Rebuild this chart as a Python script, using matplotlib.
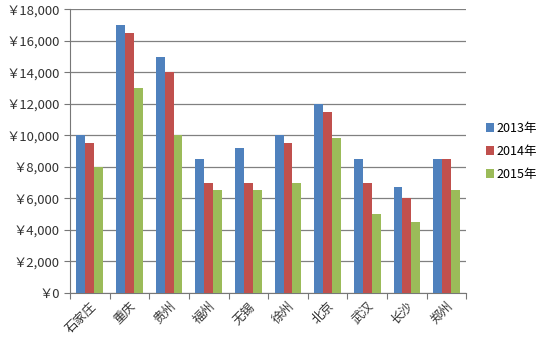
import numpy as np
import matplotlib.pyplot as plt
from matplotlib.ticker import FuncFormatter

plt.rcParams['font.family'] = ['Noto Sans CJK SC', 'DejaVu Sans']

cities = ['石家庄', '重庆', '贵州', '福州', '无锡', '徐州', '北京', '武汉', '长沙', '郑州']
y2013 = [10000, 17000, 15000, 8500, 9200, 10000, 12000, 8500, 6750, 8500]
y2014 = [9500, 16500, 14000, 7000, 7000, 9500, 11500, 7000, 6000, 8500]
y2015 = [8000, 13000, 10000, 6500, 6500, 7000, 9800, 5000, 4500, 6500]
years = ['2013年', '2014年', '2015年']
colors = ['#4F81BD', '#C0504D', '#9BBB59']

fig = plt.figure(figsize=(5.49, 3.43), dpi=100)
ax = fig.add_axes([0.1275, 0.146, 0.722, 0.827])

x = np.arange(len(cities))
w = 0.225
for k, (vals, lab) in enumerate(zip([y2013, y2014, y2015], years)):
    ax.bar(x + (k - 1) * w, vals, w, color=colors[k], label=lab, zorder=3)

ax.set_xlim(-0.5, len(cities) - 0.5)
ax.set_ylim(0, 18000)
ax.set_yticks(np.arange(0, 18001, 2000))
ax.yaxis.set_major_formatter(FuncFormatter(lambda v, p: '￥{:,.0f}'.format(v)))
ax.grid(axis='y', color='#808080', linewidth=0.9, zorder=0)

# category boundaries as ticks
ax.set_xticks(np.arange(-0.5, len(cities), 1))
ax.set_xticklabels([])
ax.set_xticks(x, minor=True)
ax.set_xticklabels(cities, minor=True, rotation=45, ha='right', va='top',
                   rotation_mode='anchor', fontsize=9, color='#333333')
ax.tick_params(axis='x', which='minor', length=0, pad=5)
ax.tick_params(axis='x', which='major', length=4, direction='out', color='#777777')
ax.tick_params(axis='y', length=4, direction='out', color='#777777', labelsize=9.5,
               labelcolor='#333333')

for s in ['top', 'right']:
    ax.spines[s].set_visible(False)
for s in ['left', 'bottom']:
    ax.spines[s].set_color('#777777')

ax.legend(loc='center left', bbox_to_anchor=(1.02, 0.5), frameon=False,
          fontsize=9, handlelength=0.7, handleheight=0.7, handletextpad=0.2,
          labelspacing=0.8)

fig.savefig('out.png', dpi=100)
